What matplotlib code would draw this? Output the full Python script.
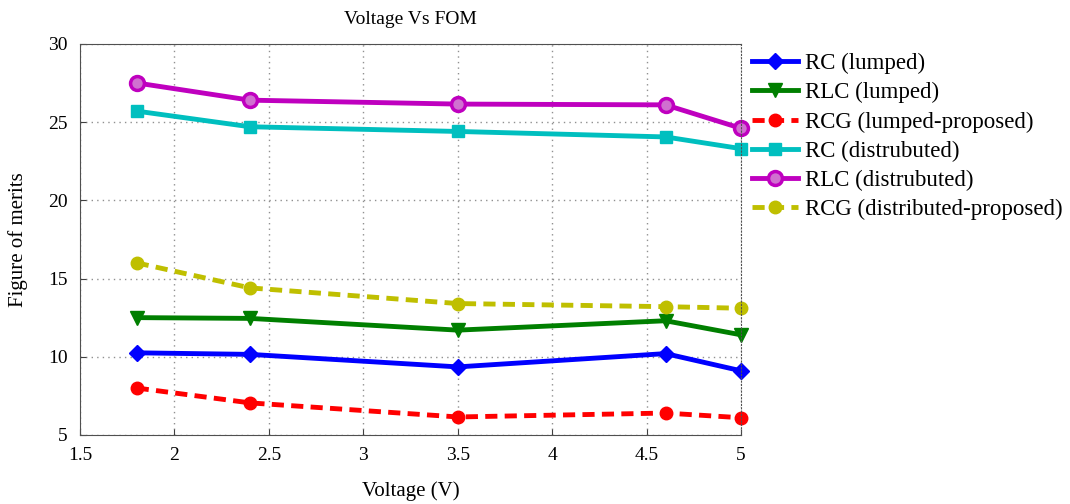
import matplotlib
matplotlib.use("Agg")
import matplotlib.pyplot as plt

plt.rcParams['font.family'] = ['Liberation Serif', 'DejaVu Serif']

# Données
tension = [1.8, 2.4, 3.5, 4.6, 5.0]

rc_lumped = [10.25, 10.15, 9.35, 10.2, 9.1]
rlc_lumped = [12.5, 12.45, 11.7, 12.3, 11.4]
rcg_lumped = [8.0, 7.05, 6.15, 6.4, 6.1]
rc_dist = [25.7, 24.7, 24.4, 24.05, 23.3]
rlc_dist = [27.5, 26.4, 26.15, 26.1, 24.6]
rcg_dist = [16.0, 14.4, 13.4, 13.2, 13.1]

noms = ["RC (lumped)", "RLC (lumped)", "RCG (lumped-proposed)",
        "RC (distrubuted)", "RLC (distrubuted)", "RCG (distributed-proposed)"]

fig = plt.figure(figsize=(10.7, 5.04), dpi=100)
ax = fig.add_axes([0.0748, 0.137, 0.6178, 0.776])

lw = 3.5
style = dict(lw=lw, clip_on=False)
ax.plot(tension, rc_lumped, color="#0000ff", marker="D", ms=8, label=noms[0], **style)
ax.plot(tension, rlc_lumped, color="#007f00", marker="v", ms=10, label=noms[1], **style)
ax.plot(tension, rcg_lumped, color="#ff0000", ls=(0, (2.5, 1.5)), marker="o", ms=9, label=noms[2], **style)
ax.plot(tension, rc_dist, color="#00bfbf", marker="s", ms=9, label=noms[3], **style)
ax.plot(tension, rlc_dist, color="#bf00bf", marker="o", ms=10, mfc="#d070d0", mew=2.5, label=noms[4], **style)
ax.plot(tension, rcg_dist, color="#bfbf00", ls=(0, (2.5, 1.5)), marker="o", ms=9, label=noms[5], **style)

ax.set_xlim(1.5, 5)
ax.set_ylim(5, 30)
ax.set_xticks([1.5, 2, 2.5, 3, 3.5, 4, 4.5, 5])
ax.set_xticklabels(["1.5", "2", "2.5", "3", "3.5", "4", "4.5", "5"])
ax.set_yticks([5, 10, 15, 20, 25, 30])
ax.tick_params(labelsize=14, direction="in", length=4, color="#404040")
ax.tick_params(axis="x", pad=9)
ax.tick_params(axis="y", pad=9)
ax.grid(True, ls=(0, (1, 3)), color="#909090", lw=1)
for s in ax.spines.values():
    s.set_color("#505050")
ax.spines["right"].set_linestyle((0, (1, 2)))

ax.set_title("Voltage Vs FOM", fontsize=14, pad=14)
ax.set_xlabel("Voltage (V)", fontsize=15, labelpad=12)
ax.set_ylabel("Figure of merits", fontsize=15, labelpad=14)

leg = ax.legend(loc="upper left", bbox_to_anchor=(1.003, 1.0), borderaxespad=0,
                fontsize=16.5, frameon=False, handlelength=2.0,
                handletextpad=0.3, labelspacing=0.35)

fig.savefig("out.png", dpi=100)
